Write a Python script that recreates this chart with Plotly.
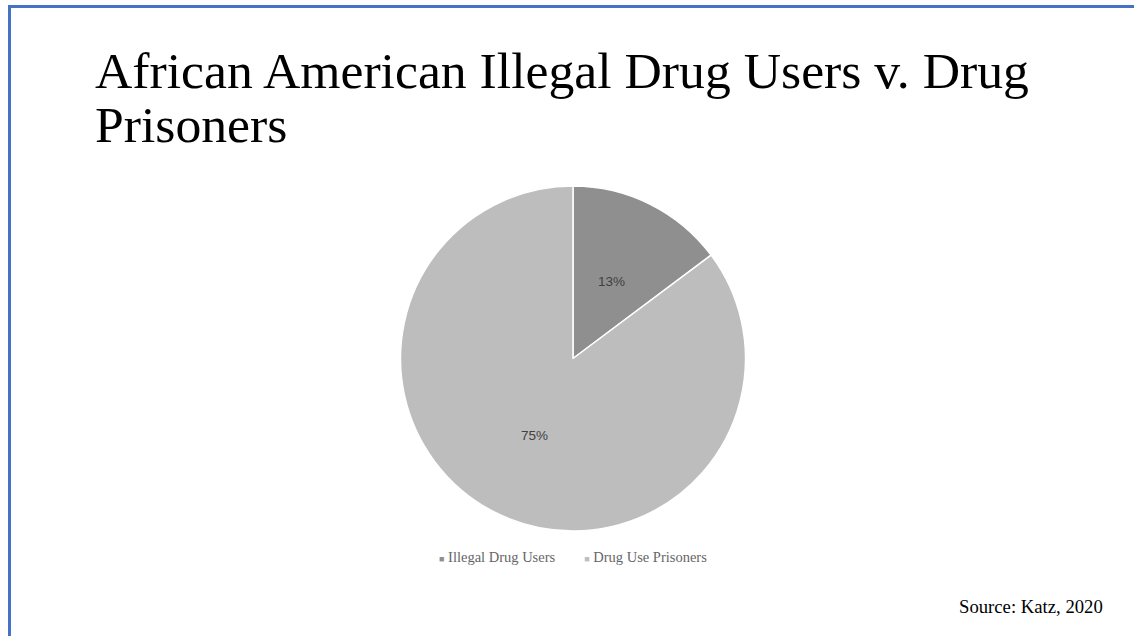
import math
import plotly.graph_objects as go

labels = ["Illegal Drug Users", "Drug Use Prisoners"]
values = [13, 75]
colors = ["#8f8f8f", "#bdbdbd"]

W, H = 1134, 636

# pie placement in pixels
cx, cy, r = 573, 358.5, 172.5

fig = go.Figure(go.Pie(
    labels=labels,
    values=values,
    sort=False,
    direction="clockwise",
    rotation=0,
    marker=dict(colors=colors, line=dict(color="white", width=1.5)),
    textinfo="none",
    hoverinfo="label+value",
    showlegend=False,
    domain=dict(x=[(cx - r) / W, (cx + r) / W], y=[(H - cy - r) / H, (H - cy + r) / H]),
))

# data labels halfway out along each slice's mid-angle
annotations = []
total = sum(values)
start = 0.0
for v in values:
    mid = (start + v / 2) / total * 2 * math.pi
    start += v
    px = cx + 0.5 * r * math.sin(mid)
    py = cy - 0.5 * r * math.cos(mid)
    annotations.append(dict(
        text=f"{v}%", xref="paper", yref="paper", x=px / W, y=(H - py) / H,
        xanchor="center", yanchor="middle", showarrow=False,
        font=dict(family="Liberation Sans, Arial", size=13.5, color="#404040")))

# legend row
legend_text = "        ".join(
    f"<span style='color:{c}; font-size:9px'>■</span> {lab}" for lab, c in zip(labels, colors))
annotations.append(dict(
    text=legend_text, xref="paper", yref="paper", x=573 / W, y=(H - 557) / H,
    xanchor="center", yanchor="middle", showarrow=False,
    font=dict(family="Liberation Serif, Times New Roman", size=14.5, color="#666666")))

# title, two lines
title_font = dict(family="Liberation Serif, Times New Roman", size=51.7, color="black")
for line, top in [("African American Illegal Drug Users v. Drug", 40), ("Prisoners", 94)]:
    annotations.append(dict(
        text=line, xref="paper", yref="paper", x=93 / W, y=(H - top) / H,
        xanchor="left", yanchor="top", align="left", showarrow=False, font=title_font))

annotations.append(dict(
    text="Source: Katz, 2020", xref="paper", yref="paper", x=1105 / W, y=(H - 606) / H,
    xanchor="right", yanchor="middle", showarrow=False,
    font=dict(family="Liberation Serif, Times New Roman", size=18.7, color="black")))

fig.update_layout(
    width=W, height=H,
    margin=dict(l=0, r=0, t=0, b=0),
    paper_bgcolor="white",
    plot_bgcolor="white",
    shapes=[
        dict(type="line", xref="paper", yref="paper",
             x0=9.5 / W, x1=1, y0=(H - 6.5) / H, y1=(H - 6.5) / H,
             line=dict(color="#4472c4", width=3)),
        dict(type="line", xref="paper", yref="paper",
             x0=9.5 / W, x1=9.5 / W, y0=0, y1=(H - 5) / H,
             line=dict(color="#4472c4", width=3)),
    ],
    annotations=annotations,
)

fig.write_html("out.html")
